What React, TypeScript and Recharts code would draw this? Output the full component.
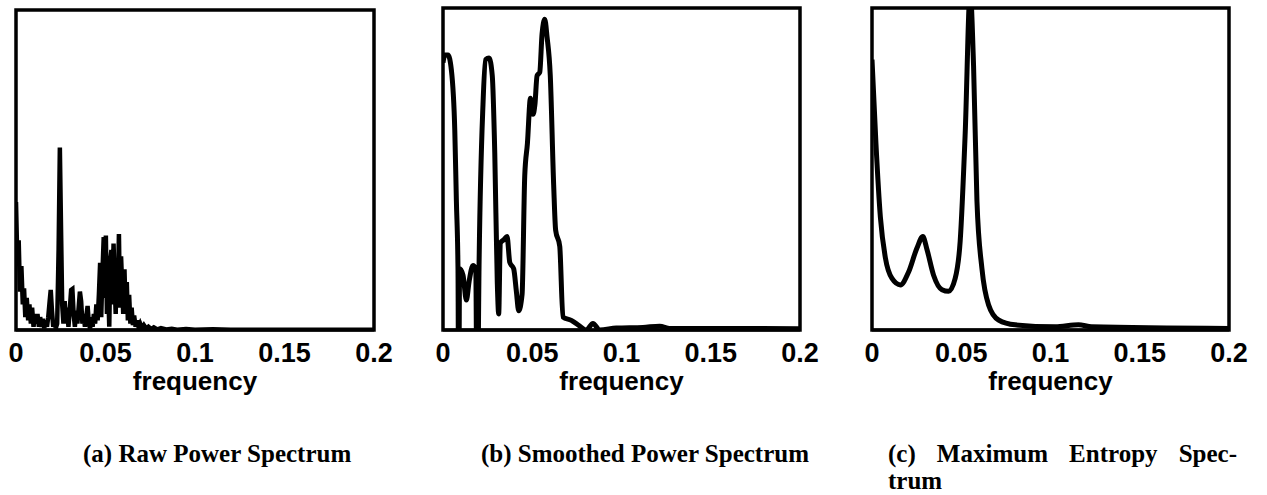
import { LineChart, Line, XAxis, YAxis, ReferenceArea } from "recharts";

// shared frequency axis
const freqTicks = [0, 0.05, 0.1, 0.15, 0.2];
const tickLabels = ["0", "0.05", "0.1", "0.15", "0.2"];

// (a) raw periodogram
const rawFreq = [
  0, 0.0008, 0.0015, 0.0022, 0.003, 0.0038, 0.0045, 0.0052, 0.006, 0.0068,
  0.0075, 0.0083, 0.009, 0.0098, 0.0105, 0.0113, 0.012, 0.0128, 0.0135, 0.0143,
  0.015, 0.0158, 0.0165, 0.0173, 0.018, 0.0188, 0.0194, 0.0201, 0.0208, 0.0215,
  0.0222, 0.023, 0.0238, 0.0245, 0.0252, 0.0258, 0.0265, 0.0272, 0.0279, 0.0286,
  0.0293, 0.03, 0.0308, 0.0315, 0.0322, 0.0329, 0.0336, 0.0343, 0.035, 0.0357,
  0.0364, 0.0371, 0.0378, 0.0385, 0.0392, 0.04, 0.0407, 0.0414, 0.0421, 0.0428,
  0.0435, 0.0442, 0.0449, 0.0456, 0.0463, 0.047, 0.0476, 0.0483, 0.049, 0.0497,
  0.0502, 0.0508, 0.0515, 0.0521, 0.0527, 0.0533, 0.0539, 0.0545, 0.0551, 0.0557,
  0.0563, 0.0569, 0.0575, 0.0581, 0.0587, 0.0593, 0.0599, 0.0606, 0.0612, 0.0619,
  0.0625, 0.0632, 0.0639, 0.0646, 0.0653, 0.066, 0.0668, 0.0676, 0.0685, 0.0694,
  0.0705, 0.0715, 0.0728, 0.074, 0.0755, 0.077, 0.079, 0.081, 0.084, 0.087,
  0.09, 0.095, 0.1, 0.11, 0.12, 0.14, 0.16, 0.2,
];
const rawPower = [
  0.4, 0.2, 0.28, 0.12, 0.2, 0.08, 0.13, 0.04, 0.1, 0.03,
  0.08, 0.02, 0.07, 0.01, 0.05, 0.02, 0.05, 0.01, 0.04, 0.01,
  0.035, 0.005, 0.03, 0.01, 0.04, 0.09, 0.125, 0.06, 0.01, 0.03,
  0.005, 0.02, 0.25, 0.57, 0.3, 0.08, 0.02, 0.09, 0.02, 0.07,
  0.01, 0.06, 0.125, 0.128, 0.05, 0.01, 0.06, 0.02, 0.07, 0.12,
  0.09, 0.02, 0.05, 0.01, 0.04, 0.075, 0.02, 0.005, 0.04, 0.01,
  0.05, 0.02, 0.08, 0.03, 0.11, 0.21, 0.04, 0.18, 0.29, 0.1,
  0.295, 0.05, 0.13, 0.01, 0.22, 0.25, 0.08, 0.27, 0.15, 0.05,
  0.22, 0.12, 0.3, 0.07, 0.23, 0.14, 0.05, 0.19, 0.06, 0.15,
  0.03, 0.11, 0.02, 0.07, 0.015, 0.045, 0.01, 0.03, 0.008, 0.02,
  0.005, 0.015, 0.004, 0.01, 0.003, 0.008, 0.002, 0.006, 0.002, 0.004,
  0.001, 0.003, 0.001, 0.002, 0.001, 0.001, 0.001, 0.001,
];

// (b) smoothed periodogram (dips below zero are clipped)
const smoothFreq = [
  0, 0.001, 0.0028, 0.0047, 0.0066, 0.0075, 0.0084, 0.0088, 0.0093, 0.0112,
  0.0131, 0.0146, 0.0168, 0.0183, 0.0192, 0.0202, 0.0224, 0.0239, 0.0258, 0.0276,
  0.029, 0.0304, 0.0312, 0.0321, 0.034, 0.0359, 0.0374, 0.0396, 0.0411, 0.0424,
  0.0443, 0.0458, 0.0473, 0.049, 0.0504, 0.0515, 0.0527, 0.0542, 0.0555, 0.057,
  0.0583, 0.0601, 0.062, 0.0631, 0.0654, 0.0672, 0.0719, 0.0766, 0.0803, 0.084,
  0.0878, 0.0971, 0.112, 0.1214, 0.127, 0.2,
];
const smoothPower = [
  0.83, 0.854, 0.854, 0.807, 0.62, 0.4, 0.19, -0.3, 0.19, 0.17,
  0.093, 0.15, 0.2, 0.19, -0.3, 0.2, 0.7, 0.84, 0.845, 0.79,
  0.55, 0.15, 0.05, 0.27, 0.28, 0.29, 0.21, 0.19, 0.12, 0.06,
  0.11, 0.48, 0.58, 0.72, 0.67, 0.7, 0.79, 0.8, 0.92, 0.965,
  0.91, 0.79, 0.45, 0.31, 0.26, 0.04, 0.03, 0.012, 0.0, 0.02,
  0.0, 0.006, 0.008, 0.012, 0.005, 0.004,
];

// (c) maximum entropy spectrum
const mesFreq = [
  0, 0.0022, 0.0047, 0.0075, 0.0112, 0.0159, 0.0205, 0.0252, 0.0285, 0.0308,
  0.0345, 0.0392, 0.0429, 0.0466, 0.0494, 0.0522, 0.055, 0.0569, 0.0588, 0.0616,
  0.0653, 0.0709, 0.0802, 0.1026, 0.1157, 0.123, 0.2,
];
const mesPower = [
  0.84, 0.58, 0.35, 0.224, 0.16, 0.14, 0.18, 0.255, 0.29, 0.25,
  0.17, 0.125, 0.12, 0.16, 0.276, 0.61, 1.05, 0.82, 0.4, 0.19,
  0.078, 0.031, 0.016, 0.01, 0.016, 0.01, 0.005,
];

const toRows = (freq: number[], power: number[]) =>
  freq.map((f, i) => ({ f, p: power[i] }));

interface PanelProps {
  rows: { f: number; p: number }[];
  left: number;
  width: number;
  margin: { top: number; left: number; right: number };
  curve: "linear" | "monotone";
  lineWidth: number;
}

function SpectrumPanel({ rows, left, width, margin, curve, lineWidth }: PanelProps) {
  const axisHeight = 372 - 330;
  return (
    <div style={{ position: "absolute", left, top: 0 }}>
      <LineChart
        width={width}
        height={495}
        data={rows}
        margin={{ ...margin, bottom: 495 - 372 }}
      >
        <XAxis
          type="number"
          dataKey="f"
          domain={[0, 0.2]}
          ticks={freqTicks}
          interval={0}
          allowDataOverflow
          tickFormatter={(v) => tickLabels[freqTicks.indexOf(v)] ?? String(v)}
          tick={{
            fontSize: 27,
            fontWeight: 700,
            fontFamily: "Liberation Sans",
            fill: "#000",
          }}
          tickLine={false}
          tickMargin={7}
          axisLine={{ stroke: "#000", strokeWidth: 3 }}
          height={axisHeight}
          label={{
            value: "frequency",
            position: "bottom",
            offset: 0,
            style: {
              fontSize: 26,
              fontWeight: 700,
              fontFamily: "Liberation Sans",
              fill: "#000",
            },
          }}
        />
        <YAxis type="number" domain={[0, 1]} allowDataOverflow hide />
        <ReferenceArea
          x1={0}
          x2={0.2}
          y1={0}
          y2={1}
          fill="none"
          fillOpacity={0}
          stroke="#000"
          strokeWidth={3.5}
        />
        <Line
          type={curve}
          dataKey="p"
          stroke="#000"
          strokeWidth={lineWidth}
          dot={false}
          isAnimationActive={false}
        />
      </LineChart>
    </div>
  );
}

const captionStyle: React.CSSProperties = {
  position: "absolute",
  fontFamily: "Liberation Serif",
  fontWeight: 700,
  fontSize: 25,
  lineHeight: "27px",
  color: "#000",
  whiteSpace: "nowrap",
};

export default function App() {
  return (
    <div
      style={{
        position: "absolute",
        left: 0,
        top: 0,
        width: 1267,
        height: 495,
        background: "#fff",
        overflow: "hidden",
      }}
    >
      <SpectrumPanel
        rows={toRows(rawFreq, rawPower)}
        left={0}
        width={400}
        margin={{ top: 10, left: 16, right: 26 }}
        curve="linear"
        lineWidth={4.5}
      />
      <SpectrumPanel
        rows={toRows(smoothFreq, smoothPower)}
        left={420}
        width={400}
        margin={{ top: 8, left: 23, right: 20 }}
        curve="monotone"
        lineWidth={5}
      />
      <SpectrumPanel
        rows={toRows(mesFreq, mesPower)}
        left={850}
        width={417}
        margin={{ top: 8, left: 22, right: 38 }}
        curve="monotone"
        lineWidth={5}
      />

      <div style={{ ...captionStyle, left: 83, top: 440 }}>
        (a) Raw Power Spectrum
      </div>
      <div style={{ ...captionStyle, left: 481, top: 440 }}>
        (b) Smoothed Power Spectrum
      </div>
      <div style={{ ...captionStyle, left: 888, top: 440, width: 349 }}>
        <div style={{ textAlign: "justify", textAlignLast: "justify" }}>
          (c) Maximum Entropy Spec-
        </div>
        <div>trum</div>
      </div>
    </div>
  );
}
